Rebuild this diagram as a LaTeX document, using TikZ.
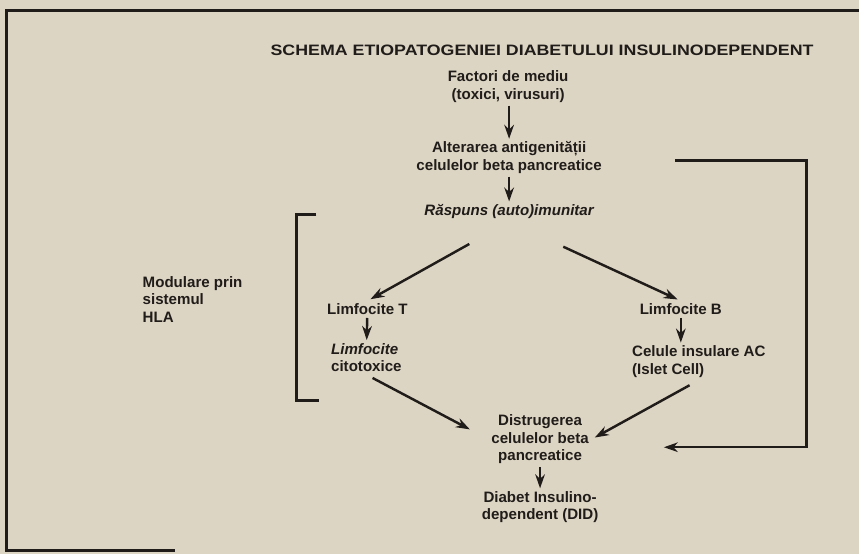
\documentclass[tikz,border=0pt]{standalone}
\usepackage{fontspec}
\setmainfont{Liberation Sans}
\usepackage{xcolor}
\usetikzlibrary{arrows.meta,calc}
\definecolor{paper}{RGB}{221,213,196}
\definecolor{ink}{RGB}{32,28,25}

\begin{document}
\begin{tikzpicture}[x=0.02cm,y=-0.02cm,->,>={Stealth[length=8pt,width=5.5pt]},
    line width=1.4pt,draw=ink,text=ink,
    font=\bfseries\fontsize{8.6}{10}\selectfont,
    nothing/.style={text centered,align=center,inner sep=1pt},
    leftbox/.style={align=left,inner sep=1pt},
    frame/.style={-,line width=1.7pt}]

    \fill[paper] (0,0) rectangle (860,555);
    \draw[frame] (860,11) -- (7,11) -- (7,551) -- (175,551);

    \node[nothing] (title) at (543,50)
    {\scalebox{1.18}[1]{\fontsize{8.6}{10}\selectfont SCHEMA ETIOPATOGENIEI DIABETULUI INSULINODEPENDENT}};

    \node[nothing] (fact) at (509,87)
    {Factori de mediu\\(toxici, virusuri)};

    \node[nothing] (alt) at (510,158)
    {Alterarea antigenității\\celulelor beta pancreatice};

    \node[nothing] (rasp) at (510,212)
    {\itshape Răspuns (auto)imunitar};

    \node[leftbox,anchor=west] (hla) at (140,300)
    {Modulare prin\\sistemul\\HLA};

    \node[nothing] (limT) at (368,310)
    {Limfocite T};

    \node[leftbox] (citot) at (367,358)
    {\itshape Limfocite\\citotoxice};

    \node[nothing] (limB) at (682,310)
    {Limfocite B};

    \node[leftbox] (celule) at (700,362)
    {Celule insulare AC\\(Islet Cell)};

    \node[nothing] (dist) at (541,440)
    {Distrugerea\\celulelor beta\\pancreatice};

    \node[nothing] (did) at (541,508)
    {Diabet Insulino-\\dependent (DID)};

    % bracket for HLA
    \draw[-] (317,215) -- (297,215) -- (297,401) -- (320,401);

    \coordinate (fbin) at (676,161);
    \coordinate (fbside) at (808,300);
    \coordinate (fbout) at (665,448);

    \path[]
    {
        (fact.south -| alt.north) edge (alt.north)
        (alt) edge (rasp)
        (rasp.south) edge[shorten <=26pt,shorten >=2pt] (limT.north)
        (rasp.south) edge[shorten <=34pt,shorten >=2pt] (limB.north)
        (limT) edge (citot)
        (limB.south) edge (limB.south |- celule.north)
        (citot.south) edge[shorten <=4pt,shorten >=12pt] (dist.west)
        (celule.south) edge[shorten <=6pt,shorten >=2pt] (dist.east)
        (dist) edge (did)
    };
    \draw (fbin) -| (fbside) |- (fbout);
\end{tikzpicture}
\end{document}
